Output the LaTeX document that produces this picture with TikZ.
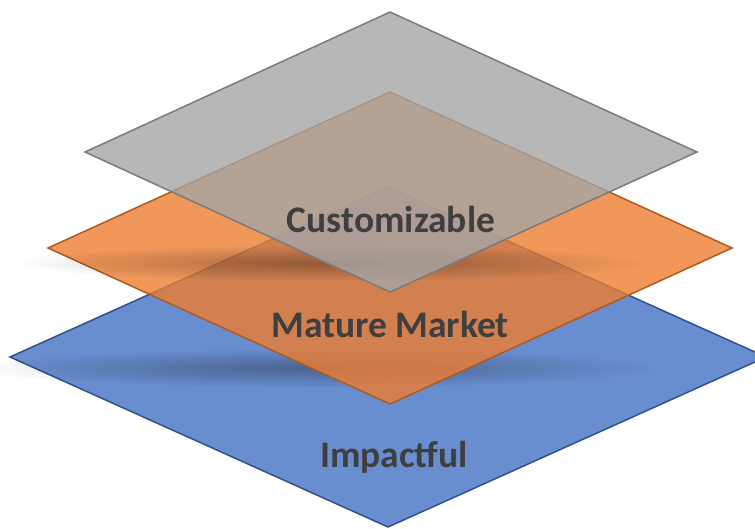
\documentclass[tikz,border=0pt]{standalone}
\usepackage{fontspec}
\setmainfont{Carlito}
\usetikzlibrary{fadings}

\definecolor{blueplane}{HTML}{4472C4}
\definecolor{blueline}{HTML}{2F528F}
\definecolor{orangeplane}{HTML}{ED7D31}
\definecolor{orangeline}{HTML}{AE5A21}
\definecolor{grayplane}{HTML}{A5A5A5}
\definecolor{grayline}{HTML}{7B7B7B}
\definecolor{tagtext}{HTML}{3F3F3F}

\tikzfading[name=planeshadow, inner color=transparent!0, outer color=transparent!100]

\begin{document}
\begin{tikzpicture}[x=1pt,y=-1pt,
    plane/.style={line width=1.5pt, line join=miter, fill opacity=0.8},
    shadow/.style={fill=black, opacity=0.3, path fading=planeshadow},
    tag/.style={font=\bfseries\fontsize{37.5}{37.5}\selectfont, text=tagtext, anchor=base}]
    \useasboundingbox (0,0) rectangle (755,528);
    % bottom plane runs past the right edge
    \begin{scope}
        \clip (0,0) rectangle (755,528);
        \filldraw[plane, draw=blueline, fill=blueplane] (10,357) -- (388,187) -- (766,357) -- (388,527) -- cycle;
    \end{scope}
    \fill[shadow] (320,368) ellipse (345 and 20);
    \filldraw[plane, draw=orangeline, fill=orangeplane] (48,248) -- (390,92) -- (732,248) -- (390,404) -- cycle;
    \fill[shadow] (330,263) ellipse (315 and 18);
    \filldraw[plane, draw=grayline, fill=grayplane] (85,152) -- (390,12) -- (697,152) -- (390,292) -- cycle;
    \node[tag] (custom) at (391,232) {Customizable};
    \node[tag] (mature) at (390,337) {Mature Market};
    \node[tag] (impact) at (394,467) {Impactful};
\end{tikzpicture}
\end{document}
